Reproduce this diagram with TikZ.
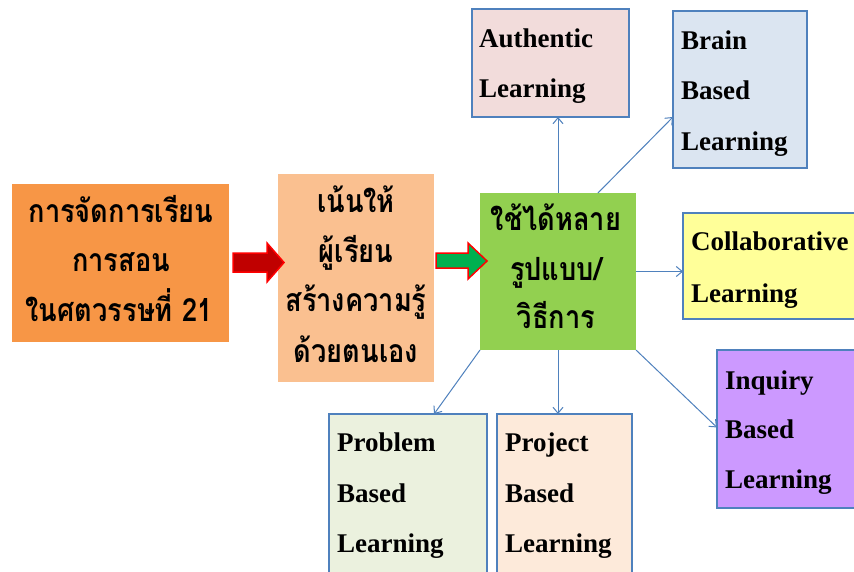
\documentclass[tikz,border=0pt]{standalone}
\usepackage{fontspec}
\setmainfont{Liberation Serif}
\newfontfamily\thaifont[Script=Thai,FakeStretch=0.85]{Loma}
\usetikzlibrary{arrows.meta,calc}
\definecolor{cOrange}{HTML}{F79646}
\definecolor{cPeach}{HTML}{FAC090}
\definecolor{cGreen}{HTML}{92D050}
\definecolor{cAuth}{HTML}{F2DCDB}
\definecolor{cBrain}{HTML}{DBE5F1}
\definecolor{cCollab}{HTML}{FFFF99}
\definecolor{cInq}{HTML}{CC99FF}
\definecolor{cProb}{HTML}{EBF1DE}
\definecolor{cProj}{HTML}{FDEADA}
\definecolor{cLine}{HTML}{4F81BD}
\definecolor{cDarkRed}{HTML}{C00000}
\definecolor{cArrGreen}{HTML}{00B050}
\tikzset{
  plain/.style={rectangle, inner sep=0pt, outer sep=0pt, anchor=north west},
  kbox/.style={plain, draw=cLine, line width=1.3pt},
  en/.style={inner sep=0pt, anchor=base west, font=\fontsize{27}{30}\selectfont\bfseries},
  th/.style={inner sep=0pt, anchor=base, font=\thaifont\fontsize{32}{36}\selectfont\bfseries},
  conn/.style={draw=cLine, line width=1pt, -{Straight Barb[length=6pt,width=10pt,line width=1pt]}},
  blockarrow/.style={draw=red, line width=1.5pt, line join=miter}
}
\begin{document}
\begin{tikzpicture}[x=1pt,y=-1pt]
\clip (0,0) rectangle (854,571);
\fill[white] (0,0) rectangle (854,571);
% main boxes
\node[plain, fill=cOrange, minimum width=217pt, minimum height=158pt] (b1) at (12,184) {};
\node[plain, fill=cPeach, minimum width=156pt, minimum height=208pt] (b2) at (278,174) {};
\node[plain, fill=cGreen, minimum width=156pt, minimum height=157pt] (b3) at (480,193) {};
% outer boxes
\node[kbox, fill=cAuth, minimum width=157pt, minimum height=108pt] (auth) at (472,9) {};
\node[kbox, fill=cBrain, minimum width=134pt, minimum height=157pt] (brain) at (673,11) {};
\node[kbox, fill=cCollab, minimum width=200pt, minimum height=106pt] (collab) at (683,213) {};
\node[kbox, fill=cInq, minimum width=180pt, minimum height=158pt] (inq) at (717,350) {};
\node[kbox, fill=cProb, minimum width=158pt, minimum height=180pt] (prob) at (329,414) {};
\node[kbox, fill=cProj, minimum width=135pt, minimum height=180pt] (proj) at (497,414) {};
% Thai texts
\node[th] (t11) at (121,222) {การจัดการเรียน};
\node[th] (t12) at (121,271) {การสอน};
\node[th] (t13) at (119,321) {ในศตวรรษที่ 21};
\node[th] (t21) at (356,212) {เน้นให้};
\node[th] (t22) at (356,262) {ผู้เรียน};
\node[th] (t23) at (356,311) {สร้างความรู้};
\node[th] (t24) at (356,362) {ด้วยตนเอง};
\node[th] (t31) at (556,230) {ใช้ได้หลาย};
\node[th] (t32) at (556,280) {รูปแบบ/};
\node[th] (t33) at (556,328) {วิธีการ};
% English texts
\node[en] (a1) at (479,47) {Authentic};
\node[en] (a2) at (479,97) {Learning};
\node[en] (br1) at (681,49) {Brain};
\node[en] (br2) at (681,99) {Based};
\node[en] (br3) at (681,150) {Learning};
\node[en] (c1) at (691,250) {Collaborative};
\node[en] (c2) at (691,302) {Learning};
\node[en] (i1) at (725,389) {Inquiry};
\node[en] (i2) at (725,438) {Based};
\node[en] (i3) at (725,488) {Learning};
\node[en] (p1) at (337,451) {Problem};
\node[en] (p2) at (337,502) {Based};
\node[en] (p3) at (337,552) {Learning};
\node[en] (q1) at (505,451) {Project};
\node[en] (q2) at (505,502) {Based};
\node[en] (q3) at (505,552) {Learning};
% block arrows
\draw[blockarrow, fill=cDarkRed] (233,253) -- (267,253) -- (267,243) -- (284,262.5) -- (267,282) -- (267,272) -- (233,272) -- cycle;
\draw[blockarrow, fill=cArrGreen] (436,253) -- (468,253) -- (468,243) -- (487,261) -- (468,279) -- (468,268) -- (436,268) -- cycle;
% connectors
\draw[conn] (b3.north) -- (b3.north |- auth.south);
\draw[conn] ($(b3.north west)!0.756!(b3.north east)$) -- ($(brain.north west)!0.675!(brain.south west)$);
\draw[conn] (b3.east) -- (b3.east -| collab.west);
\draw[conn] (b3.south east) -- ($(inq.north west)!0.49!(inq.south west)$);
\draw[conn] (b3.south) -- (b3.south |- proj.north);
\draw[conn] (b3.south west) -- ($(prob.north west)!0.665!(prob.north east)$);
\end{tikzpicture}
\end{document}
